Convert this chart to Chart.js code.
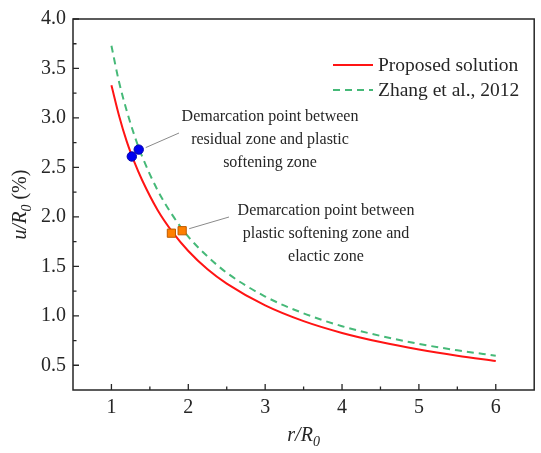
<!DOCTYPE html>
<html>
<head>
<meta charset="utf-8">
<title>u/R0 vs r/R0</title>
<script src="https://cdn.jsdelivr.net/npm/chart.js@4.4.1/dist/chart.umd.min.js"></script>
<style>
  html, body { margin: 0; padding: 0; background: #fff; }
</style>
</head>
<body>
<canvas id="chart" width="541" height="453"></canvas>
<script>
// data
const rValues = [1.0, 1.1, 1.2, 1.3, 1.4, 1.6, 1.8, 2.0, 2.25, 2.5, 3.0, 3.5, 4.0, 4.5, 5.0, 5.5, 6.0];
const proposed = [3.33, 3.02, 2.76, 2.55, 2.37, 2.07, 1.84, 1.655, 1.47, 1.325, 1.105, 0.946, 0.827, 0.735, 0.66, 0.597, 0.543];
const zhang = [3.73, 3.36, 3.07, 2.82, 2.61, 2.27, 2.01, 1.80, 1.60, 1.435, 1.195, 1.025, 0.895, 0.797, 0.716, 0.651, 0.597];

// demarcation points (proposed, Zhang)
const residualR = [1.265, 1.355];
const residualU = [2.61, 2.68];
const elasticR = [1.78, 1.92];
const elasticU = [1.835, 1.86];

const xTicks = [1, 2, 3, 4, 5, 6];
const yTicks = [0.5, 1.0, 1.5, 2.0, 2.5, 3.0, 3.5, 4.0];

const serif = '"Liberation Serif", "Times New Roman", serif';
const ink = "#262626";

const toPoints = (xs, ys) => xs.map((x, i) => ({ x: x, y: ys[i] }));

// draws text pieces (italic / subscript) centred at x,y
function drawPieces(ctx, pieces, x, y, size) {
  let total = 0;
  pieces.forEach((p) => {
    const s = p.sub ? size * 0.7 : size;
    ctx.font = (p.italic ? "italic " : "") + s + "px " + serif;
    p.w = ctx.measureText(p.t).width;
    total += p.w;
  });
  let cx = x - total / 2;
  ctx.textAlign = "left";
  ctx.textBaseline = "middle";
  pieces.forEach((p) => {
    const s = p.sub ? size * 0.7 : size;
    ctx.font = (p.italic ? "italic " : "") + s + "px " + serif;
    ctx.fillText(p.t, cx, p.sub ? y + size * 0.3 : y);
    cx += p.w;
  });
}

const decorations = {
  id: "decorations",
  afterDatasetsDraw(chart) {
    const ctx = chart.ctx;
    const area = chart.chartArea;
    const xs = chart.scales.x;
    const ys = chart.scales.y;
    ctx.save();

    // frame
    ctx.strokeStyle = ink;
    ctx.lineWidth = 1.5;
    ctx.strokeRect(area.left, area.top, area.right - area.left, area.bottom - area.top);

    // inward ticks
    ctx.lineWidth = 1.3;
    ctx.beginPath();
    xTicks.forEach((v, i) => {
      const px = xs.getPixelForValue(v);
      ctx.moveTo(px, area.bottom);
      ctx.lineTo(px, area.bottom - 6);
      if (i < xTicks.length - 1) {
        const mx = xs.getPixelForValue((v + xTicks[i + 1]) / 2);
        ctx.moveTo(mx, area.bottom);
        ctx.lineTo(mx, area.bottom - 3.5);
      }
    });
    yTicks.forEach((v, i) => {
      const py = ys.getPixelForValue(v);
      ctx.moveTo(area.left, py);
      ctx.lineTo(area.left + 6, py);
      if (i < yTicks.length - 1) {
        const my = ys.getPixelForValue((v + yTicks[i + 1]) / 2);
        ctx.moveTo(area.left, my);
        ctx.lineTo(area.left + 3.5, my);
      }
    });
    ctx.stroke();

    // legend
    const lines = chart.data.datasets.filter((d) => d.showLine);
    lines.forEach((d, i) => {
      const ly = 65 + i * 25;
      ctx.strokeStyle = d.borderColor;
      ctx.lineWidth = d.borderWidth;
      ctx.setLineDash(d.borderDash || []);
      ctx.beginPath();
      ctx.moveTo(333, ly);
      ctx.lineTo(373, ly);
      ctx.stroke();
      ctx.setLineDash([]);
      ctx.fillStyle = ink;
      ctx.font = "19.5px " + serif;
      ctx.textAlign = "left";
      ctx.textBaseline = "middle";
      ctx.fillText(d.label, 378, ly + 1);
    });

    // annotations with leader lines
    const notes = [
      { text: ["Demarcation point between", "residual zone and plastic", "softening zone"],
        cx: 270, cy: 117, from: [residualR[1], residualU[1]], to: [179, 133] },
      { text: ["Demarcation point between", "plastic softening zone and", "elactic zone"],
        cx: 326, cy: 211, from: [elasticR[1], elasticU[1]], to: [229, 217] },
    ];
    notes.forEach((n) => {
      ctx.strokeStyle = "#8a8a8a";
      ctx.lineWidth = 1;
      ctx.beginPath();
      ctx.moveTo(xs.getPixelForValue(n.from[0]) + 7, ys.getPixelForValue(n.from[1]) - 2);
      ctx.lineTo(n.to[0], n.to[1]);
      ctx.stroke();
      ctx.fillStyle = ink;
      ctx.font = "16px " + serif;
      ctx.textAlign = "center";
      ctx.textBaseline = "middle";
      n.text.forEach((t, k) => ctx.fillText(t, n.cx, n.cy + k * 23));
    });

    // axis titles
    ctx.fillStyle = ink;
    drawPieces(ctx, [{ t: "r/R", italic: true }, { t: "0", italic: true, sub: true }],
      (area.left + area.right) / 2, 436, 20);
    ctx.save();
    ctx.translate(21, (area.top + area.bottom) / 2);
    ctx.rotate(-Math.PI / 2);
    drawPieces(ctx, [{ t: "u/R", italic: true }, { t: "0", italic: true, sub: true }, { t: " (%)" }],
      0, 0, 20);
    ctx.restore();

    ctx.restore();
  },
};

const ctxChart = document.getElementById("chart");

new Chart(ctxChart, {
  type: "scatter",
  data: {
    datasets: [
      {
        label: "residual / plastic softening",
        data: toPoints(residualR, residualU),
        pointStyle: "circle",
        pointRadius: 4.7,
        backgroundColor: "rgb(0, 0, 240)",
        borderColor: "rgb(0, 0, 170)",
        borderWidth: 1,
        order: 0,
      },
      {
        label: "plastic softening / elastic",
        data: toPoints(elasticR, elasticU),
        pointStyle: "rect",
        pointRadius: 5.8,
        backgroundColor: "rgb(255, 128, 0)",
        borderColor: "rgb(190, 90, 0)",
        borderWidth: 1,
        order: 0,
      },
      {
        label: "Proposed solution",
        data: toPoints(rValues, proposed),
        showLine: true,
        borderColor: "rgb(255, 20, 20)",
        borderWidth: 2,
        pointRadius: 0,
        cubicInterpolationMode: "monotone",
        order: 1,
      },
      {
        label: "Zhang et al., 2012",
        data: toPoints(rValues, zhang),
        showLine: true,
        borderColor: "rgb(70, 185, 120)",
        borderWidth: 2,
        borderDash: [7, 5],
        pointRadius: 0,
        cubicInterpolationMode: "monotone",
        order: 2,
      },
    ],
  },
  options: {
    responsive: false,
    animation: false,
    devicePixelRatio: 1,
    layout: { padding: { top: 14, right: 3, left: 0, bottom: 0 } },
    plugins: {
      legend: { display: false },
      tooltip: { enabled: false },
    },
    scales: {
      x: {
        type: "linear",
        min: 0.5,
        max: 6.5,
        grid: { display: false, drawTicks: false },
        border: { display: false },
        afterBuildTicks: (s) => { s.ticks = xTicks.map((v) => ({ value: v })); },
        afterFit: (s) => { s.height = 63; },
        ticks: {
          padding: 6,
          color: ink,
          font: { family: serif, size: 20 },
          callback: (v) => String(v),
        },
      },
      y: {
        type: "linear",
        min: 0.25,
        max: 4.0,
        grid: { display: false, drawTicks: false },
        border: { display: false },
        afterBuildTicks: (s) => { s.ticks = yTicks.map((v) => ({ value: v })); },
        afterFit: (s) => { s.width = 73; },
        ticks: {
          padding: 7,
          color: ink,
          font: { family: serif, size: 20 },
          callback: (v) => Number(v).toFixed(1),
        },
      },
    },
  },
  plugins: [decorations],
});
</script>
</body>
</html>
